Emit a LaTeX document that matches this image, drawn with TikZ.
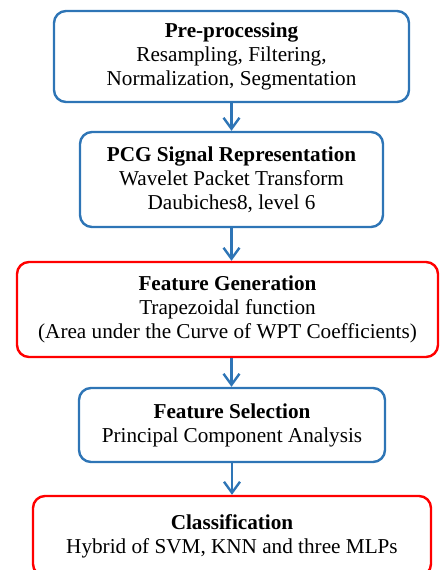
\documentclass[tikz,border=0pt]{standalone}
\usepackage{fontspec}
\setmainfont{Liberation Serif}
\usetikzlibrary{arrows.meta}
\definecolor{bloqueazul}{RGB}{46,117,182}
\definecolor{bloquerojo}{RGB}{255,0,0}

\begin{document}
\begin{tikzpicture}[
        x=1pt, y=-1pt,
        >={Straight Barb[length=11pt, width=16pt, line width=2.4pt]},
        every node/.style={
          font=\fontsize{21.2}{24}\selectfont,
          align=center,
          inner sep=0pt
        },
        bloque/.style={
          draw=bloqueazul,
          line width=2.4pt,
          rounded corners=12pt
        },
        clave/.style={
          bloque,
          draw=bloquerojo
        },
        flecha/.style={
          ->,
          draw=bloqueazul,
          line width=2.4pt
        }
      ]

      \useasboundingbox (0,0) rectangle (440,570);

      % Bloques
      \node[bloque, minimum width=355pt, minimum height=91pt] (pre) at (231.5,56.5)
      {\textbf{Pre-processing}\\Resampling, Filtering,\\Normalization, Segmentation};
      \node[bloque, minimum width=303pt, minimum height=95pt] (pcg) at (231.5,179.5)
      {\textbf{PCG Signal Representation}\\Wavelet Packet Transform\\Daubiches8, level 6};
      \node[clave, minimum width=421pt, minimum height=95pt] (gen) at (227.5,309.5)
      {\textbf{Feature Generation}\\Trapezoidal function\\(Area under the Curve of WPT Coefficients)};
      \node[bloque, minimum width=306pt, minimum height=74pt] (sel) at (232,425)
      {\textbf{Feature Selection}\\Principal Component Analysis};
      \node[clave, minimum width=398pt, minimum height=80pt] (cls) at (232,536)
      {\textbf{Classification}\\Hybrid of SVM, KNN and three MLPs};

      % Flechas
      \draw[flecha] (pre.south) -- (pre.south |- pcg.north);
      \draw[flecha] (pcg.south) -- (pcg.south |- gen.north);
      \draw[flecha] (gen.south -| pcg.south) -- (pcg.south |- sel.north);
      \draw[flecha] (sel.south) -- (sel.south |- cls.north);

    \end{tikzpicture}
\end{document}
